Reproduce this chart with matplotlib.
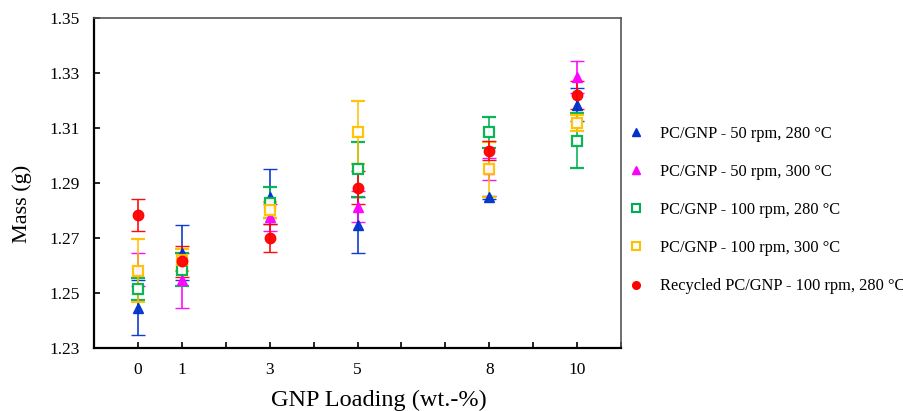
import matplotlib
matplotlib.use("Agg")
import matplotlib.pyplot as plt

plt.rcParams['font.family'] = ['Liberation Serif', 'DejaVu Serif']

loading = [0, 1, 3, 5, 8, 10]
tick_labels = ["0", "1", "3", "5", "8", "10"]

labels = ["PC/GNP - 50 rpm, 280 °C", "PC/GNP - 50 rpm, 300 °C",
          "PC/GNP - 100 rpm, 280 °C", "PC/GNP - 100 rpm, 300 °C",
          "Recycled PC/GNP - 100 rpm, 280 °C"]

m50_280 = [1.2447, 1.2647, 1.2850, 1.2747, 1.2847, 1.3184]
m50_280_err = [0.010, 0.010, 0.010, 0.010, 0.0005, 0.006]
m50_300 = [1.2584, 1.2547, 1.2775, 1.2814, 1.2950, 1.3284]
m50_300_err = [0.006, 0.010, 0.005, 0.0056, 0.004, 0.0057]
m100_280 = [1.2515, 1.2584, 1.2828, 1.2950, 1.3084, 1.3053]
m100_280_err = [0.004, 0.006, 0.0057, 0.010, 0.0057, 0.010]
m100_300 = [1.2581, 1.2620, 1.2802, 1.3084, 1.2950, 1.3117]
m100_300_err = [0.0115, 0.004, 0.003, 0.0115, 0.010, 0.003]
recycled = [1.2784, 1.2615, 1.2699, 1.2883, 1.3017, 1.3220]
recycled_err = [0.0058, 0.0057, 0.005, 0.006, 0.0035, 0.005]

fig = plt.figure(figsize=(9.04, 4.11), dpi=100)
ax = fig.add_axes([0.104, 0.153, 0.583, 0.804])

series = [
    (m50_280, m50_280_err, '^', '#0033CC', '#0033CC', 6.5),
    (m50_300, m50_300_err, '^', '#FF00FF', '#FF00FF', 6.5),
    (m100_280, m100_280_err, 's', 'white', '#00B050', 6.5),
    (m100_300, m100_300_err, 's', 'white', '#FFC000', 6.5),
    (recycled, recycled_err, 'o', '#FF0000', '#FF0000', 7.5),
]
for (vals, errs, mk, fc, ec, ms), lab in zip(series, labels):
    ax.errorbar(loading, vals, yerr=errs, fmt=mk, mfc=fc, mec=ec, ms=ms,
                mew=1.6 if fc == 'white' else 1.0, ecolor=ec, elinewidth=1.2,
                capsize=5, capthick=1.2, label=lab, alpha=0.95)

ax.set_xlim(-1, 11)
ax.set_ylim(1.23, 1.35)
ax.set_xticks(range(0, 12))
ax.set_xticklabels([str(i) if str(i) in tick_labels else "" for i in range(0, 12)])
ax.set_yticks([1.23, 1.25, 1.27, 1.29, 1.31, 1.33, 1.35])
ax.set_yticklabels(["1.23", "1.25", "1.27", "1.29", "1.31", "1.33", "1.35"])
ax.tick_params(axis='both', direction='in', labelsize=12.5, length=4, width=1.2)
ax.tick_params(axis='x', pad=10)
ax.tick_params(axis='y', pad=10)
for s in ['left', 'bottom']:
    ax.spines[s].set_linewidth(1.6)
    ax.spines[s].set_color('black')
for s in ['top', 'right']:
    ax.spines[s].set_linewidth(1.2)
    ax.spines[s].set_color('#555555')

ax.set_xlabel("GNP Loading (wt.-%)", fontsize=17.5, labelpad=8)
ax.xaxis.set_label_coords(0.54, -0.125)
ax.set_ylabel("Mass (g)", fontsize=16, labelpad=12)
ax.yaxis.set_label_coords(-0.118, 0.436)

leg_handles = [plt.Line2D([], [], marker=s[2], color='none', mfc=s[3], mec=s[4],
                          ms=5.5, mew=1.5 if s[3] == 'white' else 1.0, linestyle='none')
               for s in series]
ax.legend(leg_handles, labels, loc='center left', bbox_to_anchor=(1.0, 0.418),
          frameon=False, fontsize=11.8, labelspacing=1.35, handletextpad=1.0,
          handlelength=1.0, borderaxespad=0.0)

fig.savefig("out.png", dpi=100)
